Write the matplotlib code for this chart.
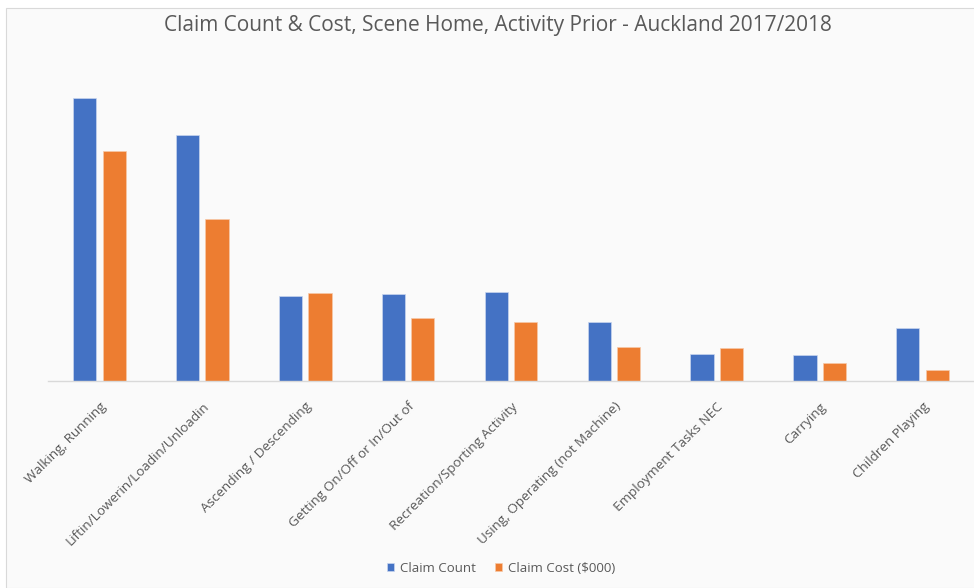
import matplotlib.pyplot as plt
import matplotlib.patches as mpatches
import numpy as np

activities = ["Walking, Running", "Liftin/Lowerin/Loadin/Unloadin",
              "Ascending / Descending", "Getting On/Off or In/Out of",
              "Recreation/Sporting Activity", "Using, Operating (not Machine)",
              "Employment Tasks NEC", "Carrying", "Children Playing"]
claim_count = [282, 245, 84, 86, 88, 59, 27, 26, 53]
claim_cost = [229, 161, 87, 63, 59, 34, 33, 18, 11]

blue = "#4472C4"
orange = "#ED7D31"
grey = "#595959"

plt.rcParams['font.family'] = ['Open Sans', 'DejaVu Sans']

fig = plt.figure(figsize=(9.74, 5.88), dpi=100, facecolor="white")
# chart area panel (light grey, starts a few px in from the left/top)
fig.patches.append(mpatches.Rectangle((6/974, 0), 1, 1 - 8/588, transform=fig.transFigure,
                                      facecolor="#fafafa", edgecolor="#d9d9d9", lw=0.8,
                                      zorder=-10))

ax = fig.add_axes([48/974, (588-380.5)/588, 926/974, 300.5/588])
ax.set_facecolor("none")

x = np.arange(len(activities))
w = 0.225
off = 0.143
ax.bar(x - off, claim_count, w, color=blue, edgecolor="#c9d6ee", lw=0.5, label="Claim Count")
ax.bar(x + off, claim_cost, w, color=orange, edgecolor="#f6c9a8", lw=0.5, label="Claim Cost ($000)")

ax.set_xlim(-0.5, len(activities) - 0.5)
ax.set_ylim(0, 300.5)
ax.set_yticks([])
for s in ["top", "right", "left"]:
    ax.spines[s].set_visible(False)
ax.spines["bottom"].set_color("#d9d9d9")
ax.spines["bottom"].set_linewidth(1.0)

ax.set_xticks(x)
ax.set_xticklabels(activities, rotation=45, ha="right", rotation_mode="anchor",
                   fontsize=9.7, color=grey)
ax.tick_params(axis="x", length=0, pad=14)

fig.text(498/974, 1 - 26/588, "Claim Count & Cost, Scene Home, Activity Prior - Auckland 2017/2018",
         ha="center", va="center", fontsize=15, color=grey)

leg = fig.legend(loc="center", bbox_to_anchor=(501/974, 1 - 568/588), ncol=2, frameon=False,
                 fontsize=9.5, labelcolor=grey, handlelength=0.55, handleheight=0.55,
                 handletextpad=0.45, columnspacing=1.4)

fig.savefig("out.png", dpi=100, facecolor=fig.get_facecolor())
